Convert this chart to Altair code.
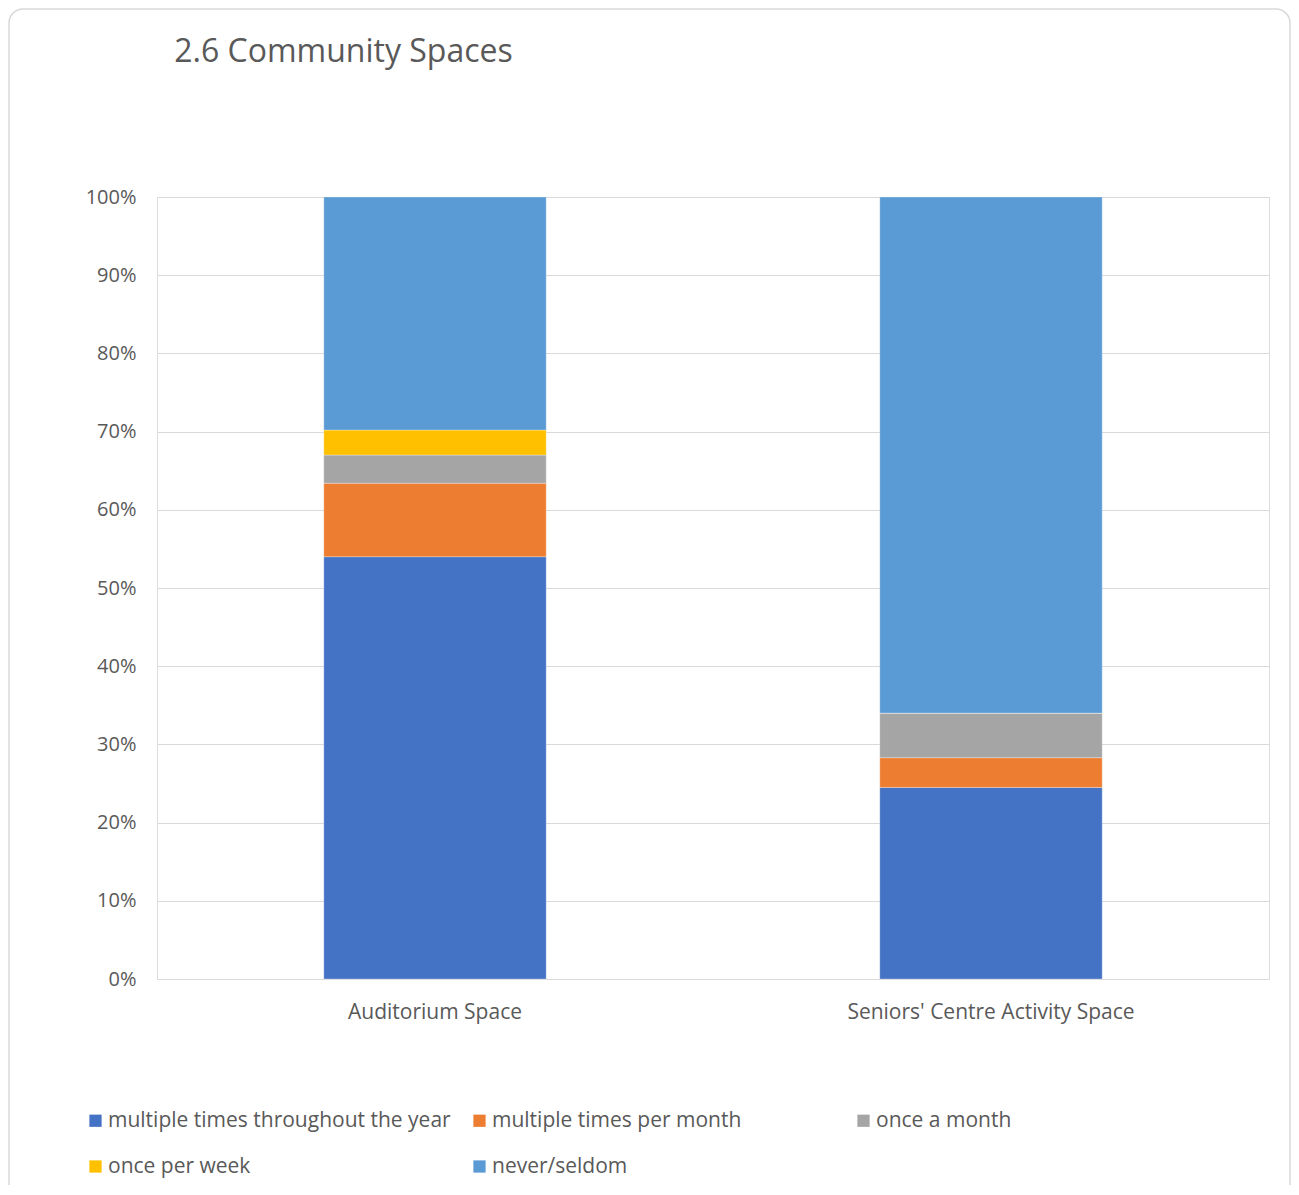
import altair as alt
import pandas as pd

categories = ["Auditorium Space", "Seniors' Centre Activity Space"]
series = ["multiple times throughout the year", "multiple times per month",
          "once a month", "once per week", "never/seldom"]
colors = ["#4472C4", "#ED7D31", "#A5A5A5", "#FFC000", "#5B9BD5"]
auditorium = [54.0, 9.4, 3.6, 3.2, 29.8]
seniors = [24.5, 3.8, 5.7, 0.0, 66.0]
y_ticks = [0, 0.1, 0.2, 0.3, 0.4, 0.5, 0.6, 0.7, 0.8, 0.9, 1.0]

rows = []
for cat, vals in zip(categories, [auditorium, seniors]):
    for i, (s, v) in enumerate(zip(series, vals)):
        rows.append({"space": cat, "freq": s, "idx": i, "value": v / 100.0})
df = pd.DataFrame(rows)

FONT = "Open Sans"
GREY = "#595959"

bars = alt.Chart(df).mark_bar(stroke="white", strokeWidth=0.5, strokeOpacity=0.6).encode(
    x=alt.X("space:N", sort=categories, title=None,
            scale=alt.Scale(paddingInner=0.6, paddingOuter=0.3),
            axis=alt.Axis(labelAngle=0, labelFontSize=21, labelColor=GREY, labelFont=FONT,
                          labelPadding=22, labelLimit=600, ticks=False,
                          domainColor="#d9d9d9", grid=False)),
    y=alt.Y("value:Q", stack="zero", title=None,
            scale=alt.Scale(domain=[0, 1], nice=False),
            axis=alt.Axis(format=".0%", values=y_ticks, labelFontSize=20, labelColor=GREY,
                          labelFont=FONT, labelPadding=21, ticks=False, domain=False,
                          gridColor="#d9d9d9", gridWidth=1)),
    color=alt.Color("freq:N", sort=series,
                    scale=alt.Scale(domain=series, range=colors),
                    legend=alt.Legend(title=None, orient="none", legendX=-72, legendY=913,
                                      direction="horizontal",
                                      columns=3, gridAlign="all", columnPadding=18,
                                      rowPadding=24, symbolType="square", symbolSize=150,
                                      symbolStrokeWidth=0, labelFontSize=21, labelColor=GREY,
                                      labelFont=FONT, labelLimit=500, labelOffset=2,
                                      symbolOffset=0)),
    order=alt.Order("idx:Q", sort="ascending"),
)

frame = alt.Chart(pd.DataFrame({"a": [0]})).mark_rect(
    fill=None, stroke="#d9d9d9", strokeWidth=1.5, cornerRadius=14, clip=False
).encode(x=alt.value(-148), x2=alt.value(1133), y=alt.value(-188), y2=alt.value(1008))

chart = alt.layer(frame, bars).properties(
    width=1112, height=782,
    padding={"left": 149, "top": 189, "right": 22, "bottom": 206},
    autosize=alt.AutoSizeParams(type="none"),
    title=alt.TitleParams("2.6 Community Spaces", anchor="start", fontSize=32,
                          font=FONT, fontWeight="normal", color=GREY, dx=166, dy=61,
                          offset=0),
).configure_view(stroke=None).configure(background="white")

chart.save("out.html", embed_options={"renderer": "svg", "actions": False})
